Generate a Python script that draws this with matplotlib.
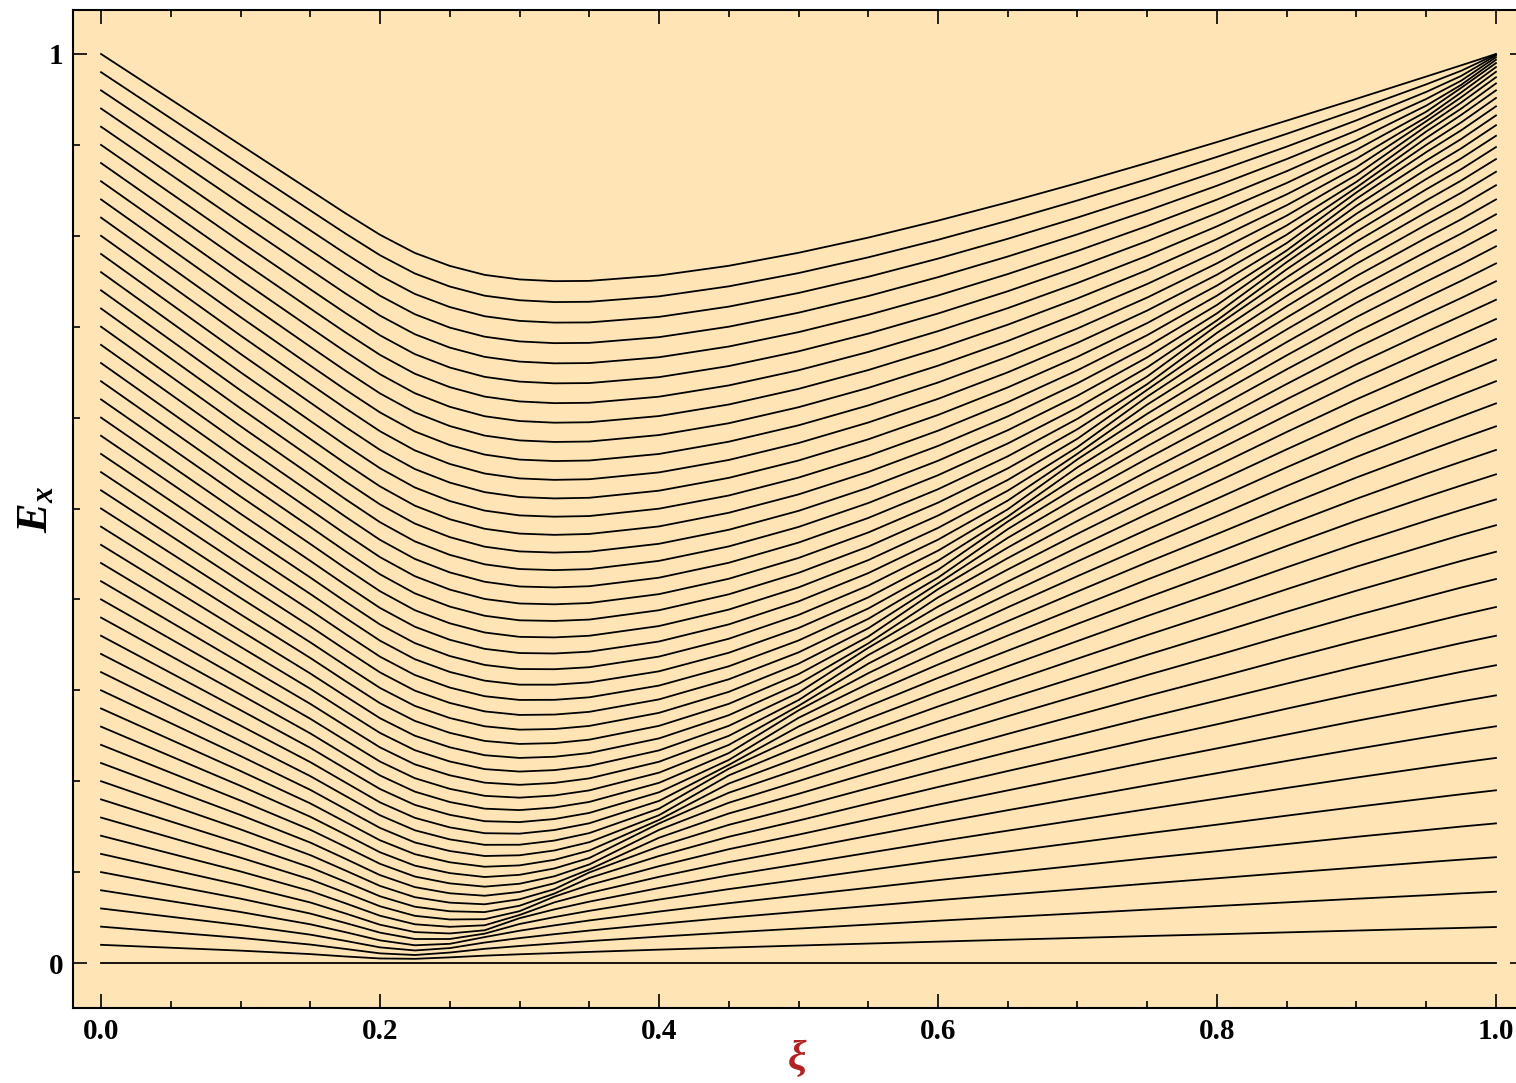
import matplotlib.pyplot as plt
import numpy as np

# control parameter columns at which the levels were read
xi = [0.0, 0.1, 0.15, 0.175, 0.2, 0.225, 0.25, 0.275, 0.3, 0.325, 0.35, 0.4, 0.45,
      0.5, 0.55, 0.6, 0.65, 0.7, 0.75, 0.8, 0.85, 0.9, 0.95, 0.975, 1.0]

# E_x of the 51 levels (lowest first) at each column
E_000 = [0.00, 0.02, 0.04, 0.06, 0.08, 0.10, 0.12, 0.14, 0.16, 0.18, 0.20, 0.22, 0.24,
         0.26, 0.28, 0.30, 0.32, 0.34, 0.36, 0.38, 0.40, 0.42, 0.44, 0.46, 0.48, 0.50,
         0.52, 0.54, 0.56, 0.58, 0.60, 0.62, 0.64, 0.66, 0.68, 0.70, 0.72, 0.74, 0.76,
         0.78, 0.80, 0.82, 0.84, 0.86, 0.88, 0.90, 0.92, 0.94, 0.96, 0.98, 1.00]
E_010 = [0.0, .0136, .0276, .0417, .0561, .0708, .0856, .1007, .1159, .1314, .1470, .1628,
         .1787, .1949, .2112, .2277, .2444, .2612, .2782, .2954, .3127, .3301, .3478, .3656,
         .3835, .4016, .4198, .4382, .4567, .4754, .4942, .5132, .5323, .5516, .5710, .5905,
         .6102, .6300, .6499, .6701, .6903, .7106, .7312, .7518, .7726, .7935, .8145, .8357,
         .8570, .8784, .9000]
E_015 = [0.0, .0098, .0203, .0312, .0426, .0544, .0666, .0792, .0920, .1052, .1187, .1325,
         .1466, .1609, .1756, .1905, .2056, .2210, .2367, .2526, .2687, .2851, .3017, .3185,
         .3356, .3528, .3703, .3881, .4060, .4241, .4424, .4610, .4797, .4987, .5178, .5372,
         .5567, .5765, .5964, .6165, .6368, .6573, .6780, .6989, .7200, .7412, .7626, .7842,
         .8060, .8279, .8500]
E_0175 = [0.0, .0072, .0155, .0244, .0340, .0441, .0546, .0658, .0774, .0895, .1019, .1148,
          .1280, .1415, .1553, .1695, .1840, .1988, .2139, .2293, .2450, .2610, .2772, .2937,
          .3104, .3274, .3447, .3622, .3799, .3978, .4161, .4345, .4532, .4721, .4912, .5105,
          .5300, .5498, .5698, .5899, .6104, .6309, .6517, .6727, .6939, .7153, .7368, .7586,
          .7806, .8027, .8250]
E_020 = [0.0, .0050, .0106, .0172, .0249, .0334, .0421, .0520, .0624, .0734, .0848, .0967,
         .1091, .1218, .1350, .1486, .1625, .1767, .1914, .2063, .2216, .2372, .2531, .2693,
         .2858, .3026, .3197, .3370, .3546, .3724, .3906, .4090, .4276, .4465, .4655, .4849,
         .5045, .5243, .5443, .5645, .5850, .6057, .6266, .6477, .6690, .6905, .7122, .7341,
         .7563, .7786, .8011]
E_0225 = [0.0, .0046, .0088, .0138, .0195, .0264, .0340, .0426, .0519, .0619, .0724, .0835,
          .0951, .1071, .1197, .1326, .1460, .1597, .1739, .1885, .2033, .2185, .2341, .2500,
          .2663, .2828, .2996, .3168, .3342, .3519, .3699, .3881, .4066, .4255, .4445, .4638,
          .4834, .5031, .5231, .5434, .5639, .5847, .6057, .6268, .6482, .6698, .6917, .7137,
          .7360, .7585, .7811]
E_025 = [0.0, .0062, .0115, .0164, .0211, .0264, .0325, .0398, .0479, .0569, .0664, .0767,
         .0876, .0989, .1108, .1232, .1360, .1492, .1630, .1771, .1916, .2065, .2217, .2373,
         .2532, .2695, .2861, .3030, .3202, .3377, .3556, .3737, .3921, .4108, .4297, .4490,
         .4685, .4882, .5082, .5285, .5490, .5698, .5907, .6119, .6335, .6551, .6770, .6990,
         .7216, .7442, .7669]
E_0275 = [0.0, .0081, .0156, .0225, .0285, .0323, .0360, .0415, .0482, .0560, .0646, .0740,
          .0840, .0946, .1059, .1177, .1300, .1428, .1560, .1698, .1839, .1984, .2133, .2286,
          .2443, .2604, .2768, .2935, .3106, .3279, .3456, .3636, .3820, .4005, .4194, .4386,
          .4580, .4777, .4977, .5180, .5385, .5593, .5802, .6015, .6231, .6448, .6668, .6890,
          .7115, .7341, .7570]
E_030 = [0.0, .0096, .0187, .0274, .0355, .0429, .0493, .0528, .0570, .0630, .0701, .0782,
         .0872, .0970, .1074, .1185, .1301, .1423, .1550, .1682, .1819, .1960, .2106, .2256,
         .2410, .2567, .2729, .2894, .3062, .3234, .3410, .3588, .3770, .3955, .4142, .4334,
         .4528, .4724, .4924, .5126, .5331, .5538, .5749, .5962, .6178, .6396, .6616, .6838,
         .7064, .7291, .7520]
E_0325 = [0.0, .0109, .0215, .0317, .0414, .0505, .0590, .0667, .0730, .0764, .0812, .0877,
          .0954, .1040, .1135, .1238, .1347, .1463, .1584, .1711, .1843, .1981, .2122, .2269,
          .2419, .2574, .2733, .2895, .3062, .3232, .3405, .3582, .3763, .3946, .4132, .4322,
          .4515, .4710, .4910, .5111, .5315, .5522, .5732, .5944, .6159, .6377, .6597, .6819,
          .7045, .7271, .7501]
E_035 = [0.0, .0122, .0241, .0357, .0468, .0574, .0675, .0770, .0858, .0935, .0996, .1029,
         .1084, .1155, .1237, .1329, .1429, .1537, .1651, .1772, .1899, .2031, .2168, .2310,
         .2457, .2608, .2763, .2923, .3087, .3254, .3425, .3600, .3778, .3960, .4145, .4333,
         .4525, .4720, .4917, .5118, .5322, .5528, .5737, .5949, .6163, .6380, .6600, .6822,
         .7047, .7274, .7504]
E_040 = [0.0, .0147, .0290, .0430, .0566, .0698, .0825, .0948, .1065, .1177, .1282, .1378,
         .1464, .1535, .1574, .1626, .1698, .1783, .1878, .1982, .2094, .2214, .2339, .2471,
         .2609, .2752, .2900, .3052, .3209, .3371, .3537, .3707, .3881, .4058, .4239, .4424,
         .4612, .4803, .4998, .5196, .5397, .5600, .5808, .6017, .6230, .6445, .6664, .6885,
         .7108, .7334, .7563]
E_045 = [0.0, .0170, .0336, .0499, .0658, .0813, .0964, .1110, .1252, .1389, .1520, .1645,
         .1763, .1873, .1974, .2064, .2137, .2179, .2234, .2309, .2399, .2499, .2609, .2726,
         .2851, .2983, .3121, .3264, .3413, .3567, .3725, .3888, .4056, .4227, .4403, .4583,
         .4766, .4953, .5143, .5337, .5534, .5735, .5938, .6144, .6354, .6567, .6782, .7000,
         .7221, .7444, .7670]
E_050 = [0.0, .0192, .0379, .0563, .0743, .0916, .1087, .1252, .1412, .1567, .1717, .1861,
         .2001, .2134, .2261, .2382, .2495, .2601, .2697, .2779, .2829, .2892, .2974, .3070,
         .3177, .3293, .3417, .3548, .3685, .3829, .3978, .4132, .4292, .4456, .4625, .4797,
         .4974, .5155, .5340, .5528, .5720, .5915, .6114, .6316, .6521, .6729, .6940, .7154,
         .7371, .7590, .7813]
E_055 = [0.0, .0214, .0422, .0627, .0827, .1022, .1212, .1398, .1578, .1753, .1923, .2087,
         .2246, .2399, .2546, .2688, .2824, .2952, .3073, .3188, .3293, .3388, .3467, .3516,
         .3591, .3682, .3786, .3900, .4022, .4152, .4289, .4432, .4581, .4736, .4896, .5060,
         .5229, .5402, .5579, .5761, .5946, .6134, .6327, .6523, .6722, .6924, .7129, .7337,
         .7549, .7763, .7980]
E_060 = [0.0, .0235, .0465, .0691, .0912, .1127, .1337, .1542, .1742, .1936, .2124, .2307,
         .2485, .2656, .2822, .2982, .3136, .3283, .3425, .3559, .3687, .3807, .3920, .4022,
         .4112, .4175, .4239, .4325, .4425, .4536, .4657, .4786, .4922, .5064, .5212, .5366,
         .5525, .5688, .5856, .6029, .6206, .6386, .6571, .6759, .6951, .7145, .7343, .7545,
         .7749, .7956, .8167]
E_065 = [0.0, .0256, .0506, .0752, .0992, .1227, .1456, .1681, .1899, .2112, .2319, .2520,
         .2715, .2905, .3087, .3265, .3436, .3602, .3761, .3913, .4058, .4197, .4329, .4454,
         .4570, .4677, .4773, .4856, .4911, .4991, .5087, .5196, .5314, .5441, .5574, .5715,
         .5861, .6013, .6170, .6332, .6498, .6669, .6843, .7022, .7204, .7390, .7579, .7772,
         .7967, .8166, .8368]
E_070 = [0.0, .0276, .0546, .0812, .1072, .1326, .1574, .1817, .2054, .2285, .2509, .2728,
         .2941, .3147, .3348, .3542, .3731, .3912, .4087, .4256, .4418, .4573, .4722, .4864,
         .4998, .5125, .5244, .5354, .5453, .5541, .5603, .5676, .5768, .5873, .5987, .6110,
         .6241, .6378, .6521, .6669, .6823, .6981, .7144, .7311, .7481, .7656, .7834, .8016,
         .8201, .8389, .8580]
E_075 = [0.0, .0297, .0587, .0873, .1153, .1426, .1693, .1954, .2210, .2459, .2701, .2938,
         .3168, .3390, .3607, .3817, .4020, .4218, .4408, .4591, .4769, .4939, .5102, .5259,
         .5408, .5550, .5685, .5812, .5931, .6042, .6143, .6231, .6306, .6368, .6453, .6553,
         .6663, .6782, .6907, .7040, .7178, .7321, .7470, .7623, .7780, .7942, .8107, .8276,
         .8448, .8623, .8802]
E_080 = [0.0, .0316, .0627, .0932, .1230, .1522, .1809, .2088, .2361, .2626, .2887, .3139,
         .3385, .3625, .3857, .4083, .4302, .4514, .4719, .4917, .5108, .5294, .5470, .5641,
         .5804, .5960, .6109, .6250, .6384, .6510, .6628, .6737, .6837, .6932, .7014, .7070,
         .7147, .7239, .7342, .7453, .7572, .7697, .7828, .7964, .8104, .8249, .8398, .8551,
         .8708, .8868, .9031]
E_085 = [0.0, .0337, .0667, .0992, .1309, .1621, .1926, .2223, .2513, .2798, .3074, .3345,
         .3608, .3864, .4112, .4353, .4587, .4815, .5035, .5247, .5453, .5651, .5842, .6025,
         .6202, .6370, .6531, .6685, .6831, .6970, .7101, .7224, .7338, .7446, .7543, .7632,
         .7710, .7776, .7839, .7920, .8012, .8114, .8222, .8336, .8456, .8581, .8711, .8844,
         .8981, .9122, .9267]
E_090 = [0.0, .0357, .0707, .1050, .1388, .1718, .2040, .2355, .2664, .2965, .3259, .3545,
         .3825, .4096, .4360, .4617, .4866, .5107, .5341, .5567, .5786, .5998, .6201, .6398,
         .6586, .6768, .6941, .7106, .7264, .7415, .7557, .7692, .7819, .7937, .8047, .8149,
         .8243, .8330, .8408, .8477, .8532, .8594, .8670, .8755, .8848, .8946, .9050, .9158,
         .9270, .9387, .9507]
E_095 = [0.0, .0377, .0745, .1109, .1463, .1810, .2151, .2483, .2808, .3124, .3434, .3735,
         .4029, .4316, .4593, .4864, .5127, .5382, .5628, .5866, .6098, .6321, .6536, .6743,
         .6944, .7136, .7320, .7496, .7664, .7825, .7978, .8123, .8259, .8389, .8511, .8624,
         .8731, .8828, .8920, .9000, .9076, .9147, .9206, .9260, .9306, .9365, .9432, .9505,
         .9583, .9666, .9752]
E_0975 = [0.0, .0386, .0766, .1137, .1501, .1856, .2205, .2546, .2878, .3203, .3520, .3829,
          .4130, .4423, .4708, .4984, .5253, .5514, .5768, .6012, .6250, .6479, .6700, .6913,
          .7119, .7315, .7504, .7685, .7859, .8024, .8181, .8331, .8473, .8607, .8732, .8851,
          .8961, .9064, .9160, .9247, .9329, .9398, .9465, .9523, .9576, .9627, .9660, .9706,
          .9758, .9815, .9875]
E_100 = [0.0, .0396, .0784, .1164, .1536, .1900, .2256, .2604, .2944, .3276, .3600, .3916,
         .4224, .4524, .4816, .5100, .5376, .5644, .5904, .6156, .6400, .6636, .6864, .7084,
         .7296, .7500, .7696, .7884, .8064, .8236, .8400, .8556, .8704, .8844, .8976, .9100,
         .9216, .9324, .9424, .9516, .9600, .9676, .9744, .9804, .9856, .9900, .9936, .9964,
         .9984, .9996, 1.0000]

columns = [E_000, E_010, E_015, E_0175, E_020, E_0225, E_025, E_0275, E_030, E_0325,
           E_035, E_040, E_045, E_050, E_055, E_060, E_065, E_070, E_075, E_080,
           E_085, E_090, E_095, E_0975, E_100]
levels = np.array(columns).T

xticks = [0.0, 0.2, 0.4, 0.6, 0.8, 1.0]
xticklabels = ['0.0', '0.2', '0.4', '0.6', '0.8', '1.0']
yticks = [0, 1]
yticklabels = ['0', '1']

plt.rcParams['font.family'] = ['Liberation Serif', 'DejaVu Serif']
plt.rcParams['font.weight'] = 'bold'
plt.rcParams['mathtext.fontset'] = 'custom'
plt.rcParams['mathtext.it'] = 'Liberation Serif:italic:bold'
plt.rcParams['mathtext.rm'] = 'Liberation Serif:bold'

W, H = 1516, 1083
fig = plt.figure(figsize=(W / 100, H / 100), dpi=100)
ax = fig.add_axes([73 / W, 1 - 1008 / H, (1524 - 73) / W, (1008 - 10) / H])
ax.set_facecolor('#FFE4B5')

for row in levels:
    ax.plot(xi, row, color='black', lw=1.3)

ax.set_xlim(-0.0201, 1.0201)
ax.set_ylim(-0.0495, 1.0484)

ax.set_xticks(xticks)
ax.set_xticklabels(xticklabels)
ax.set_xticks(np.arange(0.05, 1.0, 0.05), minor=True)
ax.set_yticks(yticks)
ax.set_yticklabels(yticklabels)
ax.set_yticks(np.arange(0.1, 0.95, 0.1), minor=True)

for s in ax.spines.values():
    s.set_linewidth(1.5)
ax.tick_params(which='both', direction='in', top=True, right=True, width=1.2,
               labelsize=21)
ax.tick_params(which='major', length=10, pad=7)
ax.tick_params(which='minor', length=5)

fig.text(36 / W, 1 - 510 / H, r'$E_x$', rotation=90, fontsize=32,
         ha='center', va='center')
fig.text(797 / W, 1 - 1060 / H, 'ξ', color='#B22222', fontsize=30,
         fontstyle='italic', fontweight='bold', ha='center', va='center')

fig.savefig('out.png', dpi=100)
